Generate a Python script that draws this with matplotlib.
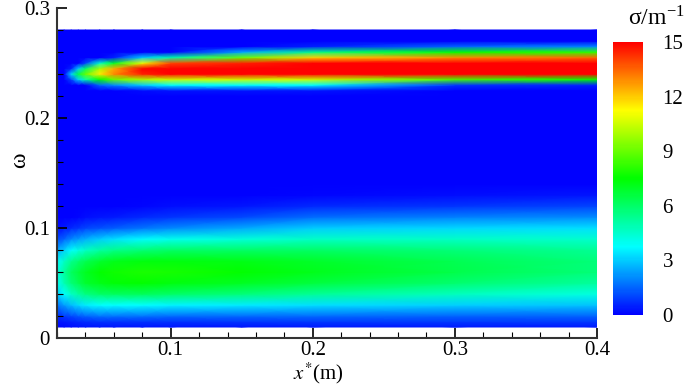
import numpy as np
import matplotlib
matplotlib.use("Agg")
import matplotlib.pyplot as plt
from matplotlib.colors import LinearSegmentedColormap, Normalize
from matplotlib.ticker import MultipleLocator, FuncFormatter

plt.rcParams['font.family'] = ['Liberation Serif', 'DejaVu Serif']
plt.rcParams['mathtext.fontset'] = 'stix'

# ---- data ----
x_nodes = [0.02, 0.025, 0.03, 0.035, 0.04, 0.05, 0.06, 0.08, 0.1, 0.15, 0.2, 0.3, 0.4]

# lower (low-frequency) band: sigma values per x column, omega rows below
omega_low = [0.01, 0.015, 0.02, 0.03, 0.04, 0.05, 0.06, 0.07, 0.08, 0.09, 0.10, 0.11, 0.12, 0.13, 0.14]
sigma_low = [
    [0.10, 0.30, 0.6, 1.7, 3.0, 3.9, 4.2, 3.7, 2.5, 1.1, 0.2, 0.0, 0.0, 0.0, 0.0],   # x=0.02
    [0.15, 0.40, 0.9, 2.3, 3.8, 4.9, 5.2, 4.6, 3.1, 1.5, 0.4, 0.0, 0.0, 0.0, 0.0],   # 0.025
    [0.20, 0.50, 1.1, 2.8, 4.6, 5.8, 6.1, 5.4, 3.8, 2.0, 0.6, 0.0, 0.0, 0.0, 0.0],   # 0.03
    [0.25, 0.60, 1.3, 3.2, 5.1, 6.3, 6.6, 5.9, 4.2, 2.3, 0.8, 0.1, 0.0, 0.0, 0.0],   # 0.035
    [0.30, 0.70, 1.5, 3.5, 5.6, 6.8, 7.0, 6.3, 4.6, 2.6, 1.0, 0.2, 0.0, 0.0, 0.0],   # 0.04
    [0.30, 0.80, 1.7, 3.8, 6.0, 7.2, 7.5, 6.8, 5.1, 3.0, 1.2, 0.3, 0.0, 0.0, 0.0],   # 0.05
    [0.30, 0.80, 1.7, 3.8, 6.1, 7.4, 7.7, 7.1, 5.5, 3.3, 1.4, 0.4, 0.0, 0.0, 0.0],   # 0.06
    [0.30, 0.80, 1.7, 3.8, 6.2, 7.5, 7.9, 7.3, 5.8, 3.7, 1.7, 0.6, 0.1, 0.0, 0.0],   # 0.08
    [0.30, 0.80, 1.6, 3.6, 6.0, 7.3, 7.8, 7.3, 6.0, 4.0, 2.0, 0.8, 0.2, 0.0, 0.0],   # 0.1
    [0.35, 0.85, 1.6, 3.5, 5.7, 7.0, 7.5, 7.2, 6.0, 4.3, 2.5, 1.1, 0.3, 0.0, 0.0],   # 0.15
    [0.40, 0.90, 1.6, 3.3, 5.3, 6.6, 7.1, 6.9, 6.0, 4.6, 3.0, 1.6, 0.6, 0.1, 0.0],   # 0.2
    [0.40, 0.90, 1.5, 3.1, 4.7, 5.9, 6.4, 6.3, 5.7, 4.6, 3.2, 1.9, 0.8, 0.2, 0.0],   # 0.3
    [0.40, 0.90, 1.5, 2.9, 4.2, 5.2, 5.7, 5.7, 5.3, 4.5, 3.3, 2.1, 1.0, 0.3, 0.0],   # 0.4
]

# upper (high-frequency) band
omega_high = [0.22, 0.225, 0.23, 0.235, 0.24, 0.245, 0.25, 0.255, 0.26, 0.265, 0.27, 0.28]
sigma_high = [
    [0, 0.0, 0.0, 0.0, 0.0, 0.0, 0.0, 0.0, 0.0, 0.0, 0, 0],    # x=0.02
    [0, 0.0, 0.0, 0.0, 0.0, 0.0, 0.0, 0.0, 0.0, 0.0, 0, 0],    # 0.025
    [0, 0.0, 0.0, 1.0, 3.2, 0.5, 0.0, 0.0, 0.0, 0.0, 0, 0],    # 0.03
    [0, 0.0, 0.0, 3.0, 6.5, 3.0, 0.0, 0.0, 0.0, 0.0, 0, 0],    # 0.035
    [0, 0.0, 0.0, 5.0, 9.0, 6.0, 1.0, 0.0, 0.0, 0.0, 0, 0],    # 0.04
    [0, 0.0, 1.5, 7.5, 11.5, 10.0, 4.5, 0.0, 0.0, 0.0, 0, 0],  # 0.05
    [0, 0.0, 2.0, 9.0, 13.0, 12.5, 7.0, 0.5, 0.0, 0.0, 0, 0],  # 0.06
    [0, 0.2, 3.0, 10.0, 14.5, 15.0, 11.0, 3.0, 0.0, 0.0, 0, 0],  # 0.08
    [0, 0.3, 3.75, 10.5, 15.0, 15.5, 14.0, 5.0, 0.0, 0.0, 0, 0], # 0.1
    [0, 0.3, 3.75, 10.5, 15.0, 16.0, 14.5, 9.0, 2.5, 0.0, 0, 0], # 0.15
    [0, 0.3, 3.75, 10.5, 15.0, 16.0, 15.0, 12.0, 5.5, 0.5, 0, 0],# 0.2
    [0, 0.0, 0.8, 8.5, 15.0, 16.0, 15.5, 13.0, 7.5, 1.5, 0, 0],  # 0.3
    [0, 0.0, 0.5, 7.5, 15.0, 16.0, 15.5, 13.5, 8.2, 2.0, 0, 0],  # 0.4
]

cbar_ticks = [0, 3, 6, 9, 12, 15]

# ---- build field table ----
omega_nodes = np.array(omega_low + omega_high)
sigma = np.hstack([np.array(sigma_low), np.array(sigma_high)]).T  # rows omega, cols x
X, Y = np.meshgrid(np.array(x_nodes), omega_nodes)

cmap = LinearSegmentedColormap.from_list(
    'tec_rainbow', [(0.0, '#0000ff'), (0.25, '#00ffff'), (0.5, '#00ff00'),
                    (0.75, '#ffff00'), (1.0, '#ff0000')])
norm = Normalize(vmin=0, vmax=15)

fig = plt.figure(figsize=(6.85, 3.87), dpi=100)
ax = fig.add_axes([57/685, 49/387, 540/685, 330/387])
mesh = ax.pcolormesh(X, Y, np.clip(sigma, 0, 15), cmap=cmap, norm=norm,
                     shading='gouraud', rasterized=True)

ax.set_xlim(0.02, 0.4)
ax.set_ylim(0, 0.3)
ax.xaxis.set_major_locator(MultipleLocator(0.1))
ax.xaxis.set_minor_locator(MultipleLocator(0.02))
ax.yaxis.set_major_locator(MultipleLocator(0.1))
ax.yaxis.set_minor_locator(MultipleLocator(0.02))
fmt = FuncFormatter(lambda v, p: '0' if abs(v) < 1e-9 else f'{v:.1f}')
ax.xaxis.set_major_formatter(fmt)
ax.yaxis.set_major_formatter(fmt)
ax.tick_params(which='major', direction='in', length=7, width=1.2, labelsize=15, pad=5)
ax.tick_params(axis='x', which='major', pad=2)
ax.tick_params(which='minor', direction='in', length=4, width=0.8)
for s in ['top', 'right']:
    ax.spines[s].set_visible(False)
for s in ['left', 'bottom']:
    ax.spines[s].set_linewidth(1.5)
    ax.spines[s].set_color('#333333')

ax.set_xlabel(r'$x^{*}$(m)', fontsize=15, va='bottom')
ax.xaxis.set_label_coords((318 - 57) / 540, (338 - 386) / 330)
ax.set_ylabel('ω', fontsize=17, va='center')
ax.yaxis.set_label_coords((20 - 57) / 540, (338 - 160) / 330)

cax = fig.add_axes([613/685, 72/387, 30/685, 273/387])
cb = fig.colorbar(mesh, cax=cax, ticks=cbar_ticks)
cb.outline.set_visible(False)
cb.ax.tick_params(length=0, labelsize=15, pad=14)
fig.text(656/685, 1 - 18/387, r'σ/m$^{\mathregular{-1}}$', fontsize=17,
         ha='center', va='center')

fig.savefig('out.png', dpi=100)
